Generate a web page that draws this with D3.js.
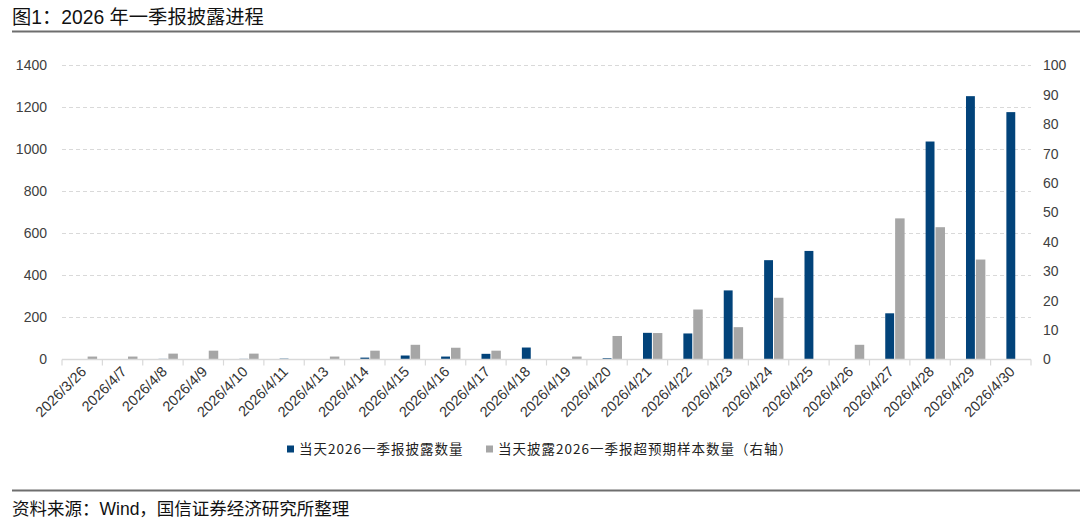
<!DOCTYPE html>
<html>
<head>
<meta charset="utf-8">
<script src="https://cdn.jsdelivr.net/npm/d3@7"></script>
<style>
	body { margin:0; background:#fff; }
	svg { display:block; font-family:"Liberation Sans", Arial, "Noto Sans CJK SC", sans-serif; }
</style>
</head>
<body>
<svg id="chart"></svg>
<script>
/*	Chart data----------------------------------------*/
const dates = ["2026/3/26","2026/4/7","2026/4/8","2026/4/9","2026/4/10","2026/4/11",
	"2026/4/13","2026/4/14","2026/4/15","2026/4/16","2026/4/17","2026/4/18","2026/4/19",
	"2026/4/20","2026/4/21","2026/4/22","2026/4/23","2026/4/24","2026/4/25","2026/4/26",
	"2026/4/27","2026/4/28","2026/4/29","2026/4/30"];
const disclosed = [0,0,3,0,3,4,0,9,19,14,27,57,0,6,127,124,329,473,517,0,220,1038,1254,1178];
const beatCount = [1,1,2,3,2,0,1,3,5,4,3,0,1,8,9,17,11,21,0,5,48,45,34,0];
const leftTicks = [0,200,400,600,800,1000,1200,1400];
const rightTicks = [0,10,20,30,40,50,60,70,80,90,100];
const seriesNames = ["当天2026一季报披露数量","当天披露2026一季报超预期样本数量（右轴）"];
const titleText = "图1：2026 年一季报披露进程";
const sourceText = "资料来源：Wind，国信证券经济研究所整理";

/*	Size and padding-----------------------------------*/
const width = 1080, height = 523;
const padding = {left:62, right:49, top:65.5, bottom:163.5};
const blue = "#02437a", grey = "#a6a6a6";

const svg = d3.select("#chart").attr("width", width).attr("height", height);

/*	Scales---------------------------------------------*/
const x = d3.scaleBand().domain(dates).range([padding.left, width - padding.right]);
const yL = d3.scaleLinear().domain([0,1400]).range([height - padding.bottom, padding.top]);
const yR = d3.scaleLinear().domain([0,100]).range([height - padding.bottom, padding.top]);

/*	Title and its rule---------------------------------*/
svg.append("text").attr("x",12).attr("y",24)
	.attr("font-size",19.3).attr("fill","#111").text(titleText);
svg.append("line").attr("x1",12).attr("x2",width).attr("y1",31.5).attr("y2",31.5)
	.attr("stroke","#6e6e6e").attr("stroke-width",2);

/*	Dashed grid lines----------------------------------*/
svg.append("g").selectAll("line").data(leftTicks.filter(d => d > 0)).join("line")
	.attr("x1", padding.left).attr("x2", width - padding.right)
	.attr("y1", d => yL(d)).attr("y2", d => yL(d))
	.attr("stroke","#d9d9d9").attr("stroke-dasharray","4,3");

/*	Left axis------------------------------------------*/
const gL = svg.append("g").attr("transform","translate(47,0)")
	.call(d3.axisLeft(yL).tickValues(leftTicks).tickFormat(d3.format("d")).tickSize(0).tickPadding(0));
gL.select(".domain").remove();
gL.selectAll("text").attr("font-size",14).attr("fill","#404040")
	.attr("font-family","Liberation Sans, Arial");

/*	Right axis-----------------------------------------*/
const gR = svg.append("g").attr("transform","translate(1043,0)")
	.call(d3.axisRight(yR).tickValues(rightTicks).tickFormat(d3.format("d")).tickSize(0).tickPadding(0));
gR.select(".domain").remove();
gR.selectAll("text").attr("font-size",14).attr("fill","#404040")
	.attr("font-family","Liberation Sans, Arial");

/*	Bars-----------------------------------------------*/
const bw = x.bandwidth() * 0.22;
svg.append("g").selectAll("rect").data(dates).join("rect")
	.attr("x", d => x(d) + x.bandwidth()/2 - bw/2)
	.attr("y", (d,i) => yL(disclosed[i]))
	.attr("width", bw)
	.attr("height", (d,i) => yL(0) - yL(disclosed[i]))
	.attr("fill", blue);
svg.append("g").selectAll("rect").data(dates).join("rect")
	.attr("x", d => x(d) + x.bandwidth()/2 + bw/2 + 1)
	.attr("y", (d,i) => yR(beatCount[i]))
	.attr("width", bw + 0.6)
	.attr("height", (d,i) => yR(0) - yR(beatCount[i]))
	.attr("fill", grey);

/*	Category axis: base line, boundary ticks, labels---*/
const base = yL(0);
svg.append("line").attr("x1", padding.left).attr("x2", width - padding.right)
	.attr("y1", base).attr("y2", base).attr("stroke","#d9d9d9").attr("stroke-width",1.5);
svg.append("g").selectAll("line").data(dates.concat([null])).join("line")
	.attr("x1", (d,i) => i < dates.length ? x(d) : x(dates[dates.length-1]) + x.bandwidth())
	.attr("x2", (d,i) => i < dates.length ? x(d) : x(dates[dates.length-1]) + x.bandwidth())
	.attr("y1", base).attr("y2", base + 6)
	.attr("stroke","#d9d9d9").attr("stroke-width",1.2);
svg.append("g").selectAll("text").data(dates).join("text")
	.attr("transform", d => "translate(" + (x(d) + x.bandwidth()/2 + 5) + "," + (base + 13) + ") rotate(-45)")
	.attr("text-anchor","end")
	.attr("font-size",14.5).attr("fill","#333")
	.text(d => d);

/*	Legend---------------------------------------------*/
const legendX = [287, 486];
const legendColors = [blue, grey];
const lg = svg.append("g");
seriesNames.forEach((name, i) => {
	lg.append("rect").attr("x", legendX[i]).attr("y", 445.5).attr("width",7).attr("height",7)
		.attr("fill", legendColors[i]);
	lg.append("text").attr("x", legendX[i] + 12).attr("y", 454)
		.attr("font-family","Noto Sans CJK SC").attr("font-size",13.5)
		.attr("letter-spacing",1.0).attr("fill","#222").text(name);
});

/*	Source rule and text-------------------------------*/
svg.append("line").attr("x1",12).attr("x2",width).attr("y1",490.5).attr("y2",490.5)
	.attr("stroke","#6e6e6e").attr("stroke-width",2);
svg.append("text").attr("x",12).attr("y",515)
	.attr("font-size",17.5).attr("fill","#111").text(sourceText);
</script>
</body>
</html>
